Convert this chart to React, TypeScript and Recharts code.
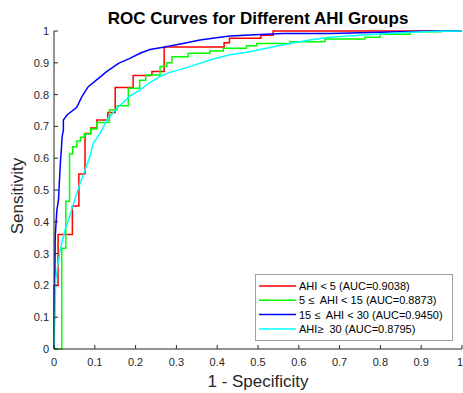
import React from "react";
import { Legend, Line, LineChart, XAxis, YAxis } from "recharts";

// values (false positive rate / true positive rate)
const lowFpr = [0, 0, 0.01, 0.01, 0.045, 0.045, 0.061, 0.061, 0.076, 0.076, 0.09, 0.09, 0.105, 0.105, 0.132, 0.132, 0.15, 0.15, 0.194, 0.194, 0.24, 0.24, 0.27, 0.27, 0.417, 0.417, 0.43, 0.43, 0.507, 0.507, 0.537, 0.537, 1];
const lowTpr = [0, 0.2, 0.2, 0.36, 0.36, 0.45, 0.45, 0.55, 0.55, 0.678, 0.678, 0.695, 0.695, 0.72, 0.72, 0.744, 0.744, 0.822, 0.822, 0.86, 0.86, 0.873, 0.873, 0.95, 0.95, 0.963, 0.963, 0.977, 0.977, 0.987, 0.987, 1, 1];

const mildFpr = [0, 0.019, 0.019, 0.029, 0.029, 0.038, 0.038, 0.046, 0.046, 0.056, 0.056, 0.065, 0.065, 0.074, 0.074, 0.09, 0.09, 0.105, 0.105, 0.136, 0.136, 0.155, 0.155, 0.182, 0.182, 0.21, 0.21, 0.225, 0.225, 0.26, 0.26, 0.276, 0.276, 0.289, 0.289, 0.329, 0.329, 0.382, 0.382, 0.415, 0.415, 0.472, 0.472, 0.497, 0.497, 0.578, 0.578, 0.664, 0.664, 0.762, 0.762, 0.799, 0.799, 0.873, 0.873, 0.95, 0.95, 1];
const mildTpr = [0, 0, 0.317, 0.317, 0.465, 0.465, 0.613, 0.613, 0.636, 0.636, 0.654, 0.654, 0.666, 0.666, 0.676, 0.676, 0.692, 0.692, 0.712, 0.712, 0.752, 0.752, 0.765, 0.765, 0.82, 0.82, 0.845, 0.845, 0.862, 0.862, 0.888, 0.888, 0.9, 0.9, 0.919, 0.919, 0.93, 0.93, 0.937, 0.937, 0.946, 0.946, 0.954, 0.954, 0.961, 0.961, 0.966, 0.966, 0.975, 0.975, 0.98, 0.98, 0.99, 0.99, 0.998, 0.998, 1, 1];

const moderateFpr = [0, 0.002, 0.003, 0.007, 0.011, 0.013, 0.016, 0.018, 0.02, 0.023, 0.023, 0.032, 0.056, 0.068, 0.084, 0.109, 0.129, 0.158, 0.186, 0.211, 0.235, 0.268, 0.316, 0.358, 0.407, 0.431, 0.505, 0.561, 0.677, 0.848, 0.93, 1];
const moderateTpr = [0, 0.2, 0.353, 0.437, 0.468, 0.52, 0.594, 0.626, 0.668, 0.689, 0.72, 0.736, 0.76, 0.793, 0.825, 0.851, 0.872, 0.898, 0.914, 0.93, 0.942, 0.949, 0.961, 0.972, 0.98, 0.984, 0.989, 0.992, 0.992, 0.998, 1, 1];

const severeFpr = [0, 0.002, 0.004, 0.015, 0.027, 0.039, 0.051, 0.064, 0.076, 0.088, 0.096, 0.113, 0.13, 0.154, 0.186, 0.211, 0.235, 0.26, 0.284, 0.333, 0.382, 0.431, 0.48, 0.529, 0.578, 0.627, 0.676, 0.75, 0.819, 0.873, 0.946, 1];
const severeTpr = [0, 0.1, 0.217, 0.311, 0.374, 0.421, 0.469, 0.521, 0.563, 0.605, 0.647, 0.678, 0.72, 0.757, 0.795, 0.815, 0.838, 0.857, 0.87, 0.888, 0.909, 0.925, 0.935, 0.948, 0.961, 0.972, 0.98, 0.987, 0.992, 0.996, 0.999, 1];

const seriesNames = [
  "AHI < 5 (AUC=0.9038)",
  "5 \u2264  AHI < 15 (AUC=0.8873)",
  "15 \u2264  AHI < 30 (AUC=0.9450)",
  "AHI\u2265  30 (AUC=0.8795)"
];
const seriesColors = ["#ff0000", "#00ff00", "#0000ff", "#00ffff"];

const xTicks = [0, 0.1, 0.2, 0.3, 0.4, 0.5, 0.6, 0.7, 0.8, 0.9, 1];
const yTicks = [0, 0.1, 0.2, 0.3, 0.4, 0.5, 0.6, 0.7, 0.8, 0.9, 1];

const toPoints = (fpr: number[], tpr: number[]) => fpr.map((x, i) => ({ x, y: tpr[i] }));
const series = [
  toPoints(lowFpr, lowTpr),
  toPoints(mildFpr, mildTpr),
  toPoints(moderateFpr, moderateTpr),
  toPoints(severeFpr, severeTpr)
];

const FONT = "'Liberation Sans', Arial, sans-serif";
const INK = "#262626";

const BottomTick = (props: any) => {
  const { x, y, payload } = props;
  const last = payload.value === 1;
  return (
    <g>
      <line x1={x} x2={x} y1={y} y2={y - 4} stroke={INK} />
      <text
        x={last ? x + 1 : x}
        y={y + 17}
        textAnchor={last ? "end" : "middle"}
        fontSize={11}
        fontFamily={FONT}
        fill={INK}
      >
        {String(payload.value)}
      </text>
    </g>
  );
};

const LeftTick = (props: any) => {
  const { x, y, payload } = props;
  return (
    <g>
      <line x1={x} x2={x + 4} y1={y} y2={y} stroke={INK} />
      <text x={x - 5} y={y + 4} textAnchor="end" fontSize={11} fontFamily={FONT} fill={INK}>
        {String(payload.value)}
      </text>
    </g>
  );
};

const TopTick = (props: any) => {
  const { x, y } = props;
  return <line x1={x} x2={x} y1={y} y2={y + 4} stroke={INK} />;
};

const RightTick = (props: any) => {
  const { x, y } = props;
  return <line x1={x} x2={x - 4} y1={y} y2={y} stroke={INK} />;
};

// title and x label share the bottom axis label slot
const BottomTexts = () => (
  <g>
    <text x={258} y={24} textAnchor="middle" fontSize={17} fontWeight="bold" fontFamily={FONT} fill="#000000">
      ROC Curves for Different AHI Groups
    </text>
    <text x={258} y={387} textAnchor="middle" fontSize={17} fontFamily={FONT} fill={INK}>
      1 - Specificity
    </text>
  </g>
);

const renderLegend = () => (
  <svg width={198} height={67} style={{ display: "block" }}>
    <rect x={0.5} y={0.5} width={197} height={66} fill="#ffffff" stroke="#a0a0a0" />
    {seriesNames.map((name, i) => {
      const cy = 12 + i * 14.3;
      return (
        <g key={name}>
          <line x1={4} x2={41} y1={cy} y2={cy} stroke={seriesColors[i]} strokeWidth={1.5} />
          <text
            x={44}
            y={cy + 4}
            fontSize={11}
            fontFamily={FONT}
            fill="#000000"
            style={{ whiteSpace: "pre" }}
          >
            {name}
          </text>
        </g>
      );
    })}
  </svg>
);

export default function App() {
  return (
    <div style={{ position: "absolute", left: 0, top: 0 }}>
      <LineChart width={463} height={393} margin={{ top: 31, right: 1, bottom: 0, left: 0 }}>
        <XAxis
          dataKey="x"
          type="number"
          domain={[0, 1]}
          ticks={xTicks}
          interval={0}
          height={44}
          tickSize={0}
          tickMargin={0}
          tick={<BottomTick />}
          axisLine={{ stroke: INK }}
          tickLine={false}
          label={{ content: () => <BottomTexts /> }}
        />
        <XAxis
          xAxisId="top"
          orientation="top"
          type="number"
          domain={[0, 1]}
          ticks={xTicks}
          interval={0}
          height={0}
          tickSize={0}
          tickMargin={0}
          tick={<TopTick />}
          axisLine={{ stroke: INK }}
          tickLine={false}
          allowDataOverflow
        />
        <YAxis
          type="number"
          domain={[0, 1]}
          ticks={yTicks}
          interval={0}
          width={54}
          tickSize={0}
          tickMargin={0}
          tick={<LeftTick />}
          axisLine={{ stroke: INK }}
          tickLine={false}
          label={{
            content: () => (
              <text
                x={23}
                y={196}
                textAnchor="middle"
                fontSize={17}
                fontFamily={FONT}
                fill={INK}
                transform="rotate(-90 23 196)"
              >
                Sensitivity
              </text>
            )
          }}
        />
        <YAxis
          yAxisId="right"
          orientation="right"
          type="number"
          domain={[0, 1]}
          ticks={yTicks}
          interval={0}
          width={0}
          tickSize={0}
          tickMargin={0}
          tick={<RightTick />}
          axisLine={{ stroke: INK }}
          tickLine={false}
          allowDataOverflow
        />
        {series.map((data, i) => (
          <Line
            key={seriesNames[i]}
            data={data}
            dataKey="y"
            name={seriesNames[i]}
            type="linear"
            stroke={seriesColors[i]}
            strokeWidth={1.5}
            dot={false}
            activeDot={false}
            isAnimationActive={false}
          />
        ))}
        <Legend
          layout="horizontal"
          align="center"
          verticalAlign="middle"
          content={renderLegend}
          wrapperStyle={{ left: 255, top: 274, width: 198, height: 67 }}
        />
      </LineChart>
    </div>
  );
}
